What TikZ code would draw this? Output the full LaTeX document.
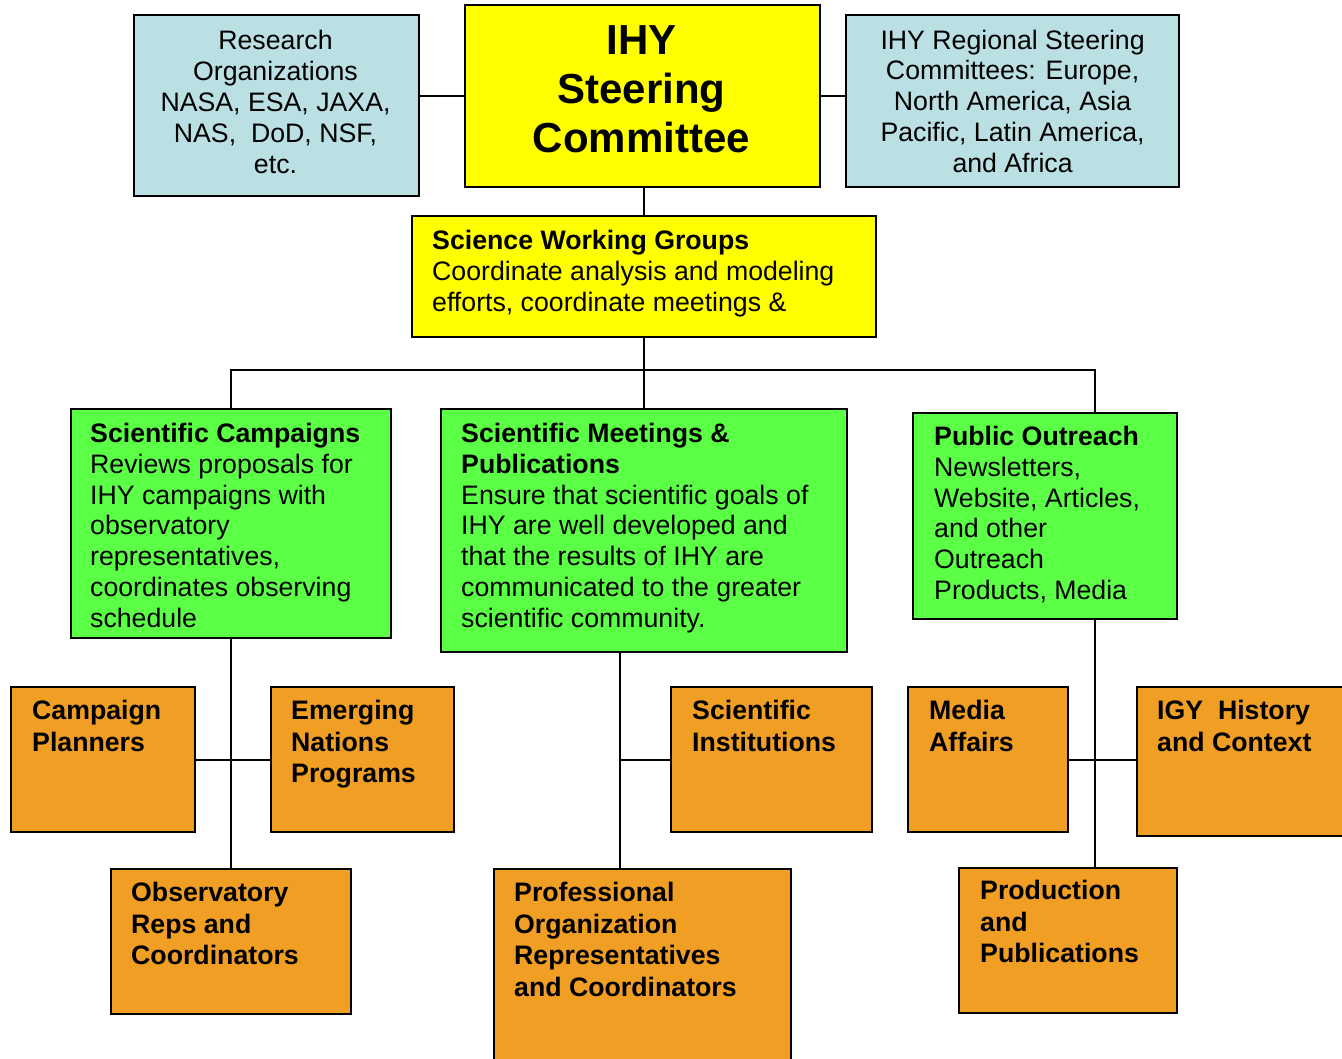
\documentclass[tikz,border=0pt]{standalone}
\usepackage{fontspec}
\setmainfont{Liberation Sans}
\usetikzlibrary{calc}

\definecolor{boxblue}{HTML}{BBE0E3}
\definecolor{boxyellow}{HTML}{FFFF00}
\definecolor{boxgreen}{HTML}{5BFF46}
\definecolor{boxorange}{HTML}{F09E24}

\newcommand\bodyfont{\fontsize{26.7}{30.8}\selectfont}
\newcommand\leaffont{\fontsize{26.7}{31.6}\selectfont\bfseries}
\newcommand\headfont{\fontsize{42}{49}\selectfont\bfseries}

\begin{document}
\begin{tikzpicture}[x=1pt, y=-1pt,
  orgbox/.style={draw, rectangle, line width=2.2pt, anchor=north west, inner sep=0pt},
  bluebox/.style={orgbox, fill=boxblue, align=center, font=\bodyfont},
  yellowbox/.style={orgbox, fill=boxyellow},
  greenbox/.style={orgbox, fill=boxgreen},
  orangebox/.style={orgbox, fill=boxorange},
  boxtext/.style={anchor=north west, align=left, inner sep=0pt},
  link/.style={line width=2pt}]
  \useasboundingbox (0,0) rectangle (1342,1059);

  % top row
  \node[bluebox, minimum width=285, minimum height=181] (research) at (133,14) {};
  \node[align=center, inner sep=0pt, font=\bodyfont] (research-t) at (275.5,102)
    {Research\\Organizations\\NASA, ESA, JAXA,\\NAS,\ \ DoD, NSF,\\etc.};
  \node[yellowbox, minimum width=355, minimum height=182] (ihy) at (464,4) {};
  \node[align=center, inner sep=0pt, font=\headfont] (ihy-t) at (641.5,89) {IHY\\Steering\\Committee};
  \node[bluebox, minimum width=333, minimum height=172] (regional) at (845,14)
    {IHY Regional Steering\\Committees: Europe,\\North America, Asia\\Pacific, Latin America,\\and Africa};

  % working groups
  \node[yellowbox, minimum width=464, minimum height=121] (swg) at (411,215) {};
  \node[boxtext, font=\bodyfont] (swg-t) at (432,230)
    {\textbf{Science Working Groups}\\Coordinate analysis and modeling\\efforts, coordinate meetings \&};

  % green row
  \node[greenbox, minimum width=320, minimum height=229] (camp) at (70,408) {};
  \node[boxtext, font=\bodyfont] (camp-t) at (90,423)
    {\textbf{Scientific Campaigns}\\Reviews proposals for\\IHY campaigns with\\observatory\\representatives,\\coordinates observing\\schedule};
  \node[greenbox, minimum width=406, minimum height=243] (meet) at (440,408) {};
  \node[boxtext, font=\bodyfont] (meet-t) at (461,423)
    {\textbf{Scientific Meetings \&}\\\textbf{Publications}\\Ensure that scientific goals of\\IHY are well developed and\\that the results of IHY are\\communicated to the greater\\scientific community.};
  \node[greenbox, minimum width=264, minimum height=206] (outr) at (912,412) {};
  \node[boxtext, font=\bodyfont] (outr-t) at (934,426)
    {\textbf{Public Outreach}\\Newsletters,\\Website, Articles,\\and other\\Outreach\\Products, Media};

  % orange row
  \node[orangebox, minimum width=184, minimum height=145] (planners) at (10,686) {};
  \node[boxtext, font=\leaffont] (planners-t) at (32,700) {Campaign\\Planners};
  \node[orangebox, minimum width=183, minimum height=145] (emerging) at (270,686) {};
  \node[boxtext, font=\leaffont] (emerging-t) at (291,700) {Emerging\\Nations\\Programs};
  \node[orangebox, minimum width=240, minimum height=145] (obs) at (110,868) {};
  \node[boxtext, font=\leaffont] (obs-t) at (131,882) {Observatory\\Reps and\\Coordinators};
  \node[orangebox, minimum width=201, minimum height=145] (inst) at (670,686) {};
  \node[boxtext, font=\leaffont] (inst-t) at (692,700) {Scientific\\Institutions};
  \node[orangebox, minimum width=297, minimum height=220] (prof) at (493,868) {};
  \node[boxtext, font=\leaffont] (prof-t) at (514,882) {Professional\\Organization\\Representatives\\and Coordinators};
  \node[orangebox, minimum width=160, minimum height=145] (media) at (907,686) {};
  \node[boxtext, font=\leaffont] (media-t) at (929,700) {Media\\Affairs};
  \node[orangebox, minimum width=210, minimum height=149] (igy) at (1136,686) {};
  \node[boxtext, font=\leaffont] (igy-t) at (1157,700) {IGY\ \ History\\and Context};
  \node[orangebox, minimum width=218, minimum height=145] (prod) at (958,867) {};
  \node[boxtext, font=\leaffont] (prod-t) at (980,880) {Production\\and\\Publications};

  % branch points
  \coordinate (bus) at (0,370);
  \coordinate (meet-x) at (620,0);
  \coordinate (outr-x) at (1095,0);

  % connectors
  \draw[link] (ihy.west) -- (ihy.west -| research.east);
  \draw[link] (ihy.east) -- (ihy.east -| regional.west);
  \draw[link] (swg.north |- ihy.south) -- (swg.north);
  \draw[link] (swg.south) -- (meet.north);
  \draw[link] (camp.north) -- (camp.north |- bus) -- (bus -| outr-x) -- (outr.north -| outr-x);

  \draw[link] (camp.south) -- (obs.north);
  \draw[link] (planners.east) -- (emerging.west);
  \draw[link] (meet.south -| meet-x) -- (prof.north -| meet-x);
  \draw[link] (inst.west -| meet-x) -- (inst.west);
  \draw[link] (outr.south -| outr-x) -- (prod.north -| outr-x);
  \draw[link] (media.east) -- (media.east -| igy.west);
\end{tikzpicture}
\end{document}
